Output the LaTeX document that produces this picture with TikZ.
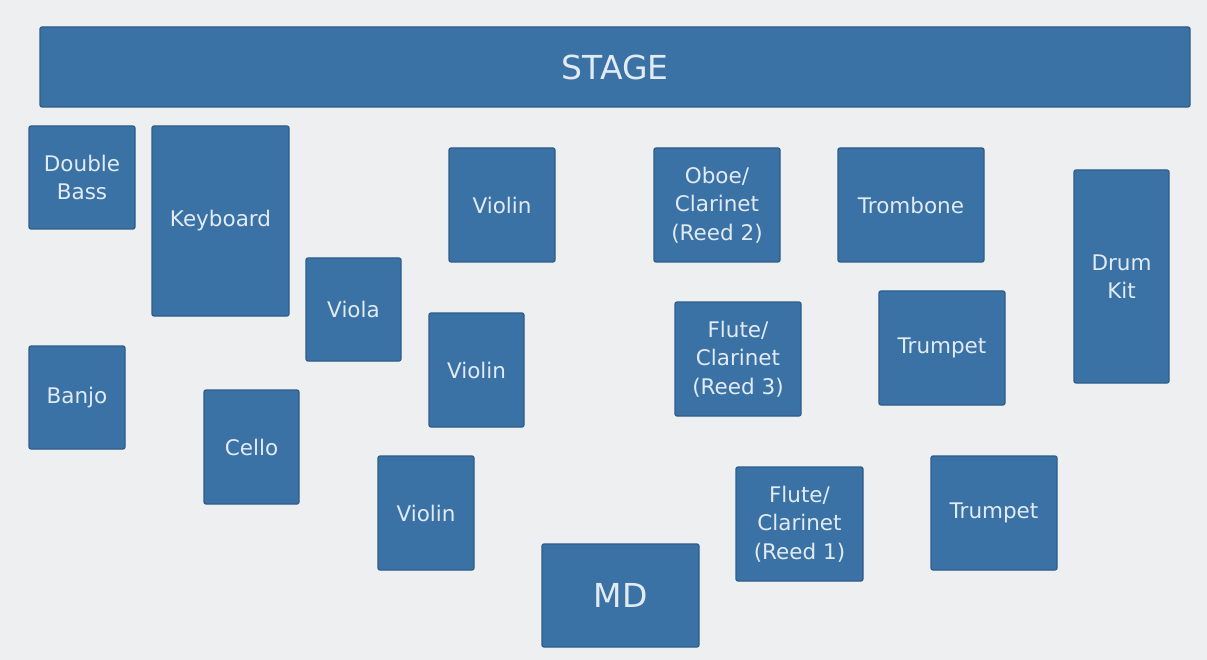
\documentclass[tikz,border=0pt]{standalone}
\usepackage{fontspec}
\setmainfont{DejaVu Sans}
\usepackage{tikz}
\usetikzlibrary{positioning}
\definecolor{floor}{HTML}{EDEFF0}
\definecolor{seatblue}{HTML}{3A72A6}
\definecolor{seatedge}{HTML}{2D5D8A}
\definecolor{seattext}{HTML}{E2EAF2}
\tikzset{
    seat/.style={rectangle, draw=seatedge, line width=1.2pt, fill=seatblue, rounded corners=2pt, align=center, text=seattext, font=\fontsize{21.5}{28.5}\selectfont, inner sep=0pt},
    bigseat/.style={seat, font=\fontsize{33}{38}\selectfont},
}

\begin{document}
\begin{tikzpicture}[x=1pt, y=-1pt]
    \fill[floor] (0,0) rectangle (1207,660);
    \useasboundingbox (0,0) rectangle (1207,660);
    % back row against the stage
    \node[bigseat, minimum width=1150pt, minimum height=80pt] (stage) at (615,67) {STAGE};
    \node[seat, minimum width=106pt, minimum height=103pt] (bass) at (82,177.5) {Double\\Bass};
    \node[seat, minimum width=137pt, minimum height=190pt] (keys) at (220.5,221) {Keyboard};
    \node[seat, minimum width=106pt, minimum height=114pt] (vlnA) at (502,205) {Violin};
    \node[seat, minimum width=126pt, minimum height=114pt] (reedB) at (717,205) {Oboe/\\Clarinet\\(Reed 2)};
    \node[seat, minimum width=146pt, minimum height=114pt] (tbn) at (911,205) {Trombone};
    \node[seat, minimum width=95pt, minimum height=213pt] (drums) at (1121.5,276.5) {Drum\\Kit};
    % middle
    \node[seat, minimum width=95pt, minimum height=103pt] (vla) at (353.5,309.5) {Viola};
    \node[seat, minimum width=95pt, minimum height=114pt] (vlnB) at (476.5,370) {Violin};
    \node[seat, minimum width=126pt, minimum height=114pt] (reedC) at (738,359) {Flute/\\Clarinet\\(Reed 3)};
    \node[seat, minimum width=126pt, minimum height=114pt] (tptA) at (942,348) {Trumpet};
    \node[seat, minimum width=96pt, minimum height=103pt] (banjo) at (77,397.5) {Banjo};
    % front
    \node[seat, minimum width=95pt, minimum height=114pt] (vc) at (251.5,447) {Cello};
    \node[seat, minimum width=96pt, minimum height=114pt] (vlnC) at (426,513) {Violin};
    \node[seat, minimum width=127pt, minimum height=114pt] (reedA) at (799.5,524) {Flute/\\Clarinet\\(Reed 1)};
    \node[seat, minimum width=126pt, minimum height=114pt] (tptB) at (994,513) {Trumpet};
    \node[bigseat, minimum width=157pt, minimum height=103pt] (md) at (620.5,595.5) {MD};
\end{tikzpicture}
\end{document}
